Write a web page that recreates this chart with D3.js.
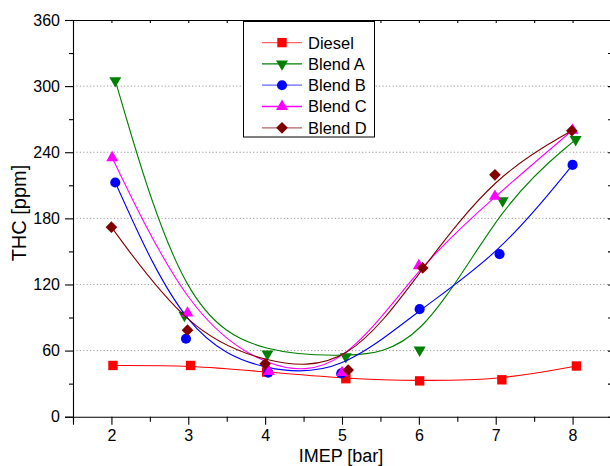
<!DOCTYPE html>
<html>
<head>
<meta charset="utf-8">
<script src="https://cdn.jsdelivr.net/npm/d3@7"></script>
<style>
  html, body { margin: 0; padding: 0; background: #fff; }
  svg { display: block; font-family: "Liberation Sans", Arial, sans-serif; }
</style>
</head>
<body>
<svg id="chart" width="610" height="466"></svg>
<script>
// ---- data ----
const seriesNames = ["Diesel", "Blend A", "Blend B", "Blend C", "Blend D"];
const dieselX = [2.02, 3.03, 4.02, 5.05, 6.01, 7.08, 8.05];
const dieselY = [46.5, 46.5, 40.5, 34.5, 32.5, 33.5, 46];
const blendAX = [2.05, 2.95, 4.03, 5.05, 6.01, 7.09, 8.04];
const blendAY = [305, 92, 57, 54.5, 60.5, 196, 251.5];
const blendBX = [2.05, 2.97, 4.04, 4.99, 6.01, 7.05, 8.0];
const blendBY = [212.5, 70.7, 40, 39.3, 97.6, 147.5, 228.5];
const blendCX = [2.01, 2.99, 4.05, 5.0, 6.0, 6.99, 8.0];
const blendCY = [235, 94, 41, 40, 137, 200, 260];
const blendDX = [2.0, 2.99, 4.0, 5.08, 6.05, 6.99, 7.99];
const blendDY = [172, 78.5, 48, 42.3, 135, 219.5, 259.5];
const xTickValues = [2, 3, 4, 5, 6, 7, 8];
const xMinorValues = [1.5, 2.5, 3.5, 4.5, 5.5, 6.5, 7.5, 8.5];
const yTickValues = [0, 60, 120, 180, 240, 300, 360];
const yMinorValues = [30, 90, 150, 210, 270, 330];
const yGridValues = [60, 120, 180, 240, 300];
const xTitle = "IMEP [bar]";
const yTitle = "THC [ppm]";

// ---- styles ----
const colors = ["#ff0000", "#008000", "#0000ff", "#ff00ff", "#800000"];
const symbols = [
  {type: d3.symbolSquare, size: 88, rot: 0},
  {type: d3.symbolTriangle, size: 62, rot: 180},
  {type: d3.symbolCircle, size: 80, rot: 0},
  {type: d3.symbolTriangle, size: 62, rot: 0},
  {type: d3.symbolSquare, size: 68, rot: 45}
];
const xs = [dieselX, blendAX, blendBX, blendCX, blendDX];
const ys = [dieselY, blendAY, blendBY, blendCY, blendDY];

const L = 73, R = 611, T = 20, B = 416.7;
const x = d3.scaleLinear().domain([1.5, 8.5]).range([L, R]);
const y = d3.scaleLinear().domain([0, 360]).range([B, T]);

const svg = d3.select("#chart");

// grid
svg.append("g").selectAll("line").data(yGridValues).join("line")
  .attr("x1", L).attr("x2", R)
  .attr("y1", d => y(d)).attr("y2", d => y(d))
  .attr("stroke", "#9a9a9a").attr("stroke-width", 1)
  .attr("stroke-dasharray", "1.2,2.2");

// axes
const axisFont = "16px";
svg.append("g").attr("transform", `translate(0,${B})`)
  .call(d3.axisBottom(x).tickValues(xTickValues).tickSize(8).tickPadding(5).tickFormat(d3.format("d")));
svg.append("g").attr("transform", `translate(0,${B})`)
  .call(d3.axisBottom(x).tickValues(xMinorValues).tickSize(5).tickFormat(""))
  .select(".domain").remove();
svg.append("g").attr("transform", `translate(${L},0)`)
  .call(d3.axisLeft(y).tickValues(yTickValues).tickSize(8).tickPadding(5).tickFormat(d3.format("d")));
svg.append("g").attr("transform", `translate(${L},0)`)
  .call(d3.axisLeft(y).tickValues(yMinorValues).tickSize(4).tickFormat(""))
  .select(".domain").remove();
// top and right frame with inward ticks
svg.append("g").attr("transform", `translate(0,${T})`)
  .call(d3.axisTop(x).tickValues(xTickValues.concat(xMinorValues)).tickSize(-3).tickSizeOuter(0).tickFormat(""));
svg.append("g").attr("transform", `translate(${R},0)`)
  .call(d3.axisRight(y).tickValues(yTickValues.concat(yMinorValues)).tickSize(-3).tickSizeOuter(0).tickFormat(""));

svg.selectAll(".tick text").attr("font-size", axisFont).attr("fill", "#000")
  .attr("font-family", "'Liberation Sans', Arial, sans-serif");
svg.selectAll(".domain, .tick line").attr("stroke", "#000").attr("stroke-width", 1.1);

// titles
svg.append("text").attr("x", 341).attr("y", 462).attr("text-anchor", "middle")
  .attr("font-size", "18px").text(xTitle);
svg.append("text").attr("transform", "translate(26,213) rotate(-90)").attr("text-anchor", "middle")
  .attr("font-size", "20px").text(yTitle);

// series
const line = d3.line().curve(d3.curveBasis).x(d => x(d[0])).y(d => y(d[1]));
seriesNames.forEach((name, i) => {
  const pts = xs[i].map((xv, j) => [xv, ys[i][j]]);
  const g = svg.append("g");
  g.append("path").datum(pts).attr("d", line)
    .attr("fill", "none").attr("stroke", colors[i]).attr("stroke-width", 1.1);
  const sym = d3.symbol().type(symbols[i].type).size(symbols[i].size);
  g.selectAll("path.m").data(pts).join("path").attr("class", "m")
    .attr("d", sym)
    .attr("transform", d => `translate(${x(d[0])},${y(d[1])}) rotate(${symbols[i].rot})`)
    .attr("fill", colors[i]);
});

// legend
const lg = svg.append("g");
lg.append("rect").attr("x", 243.5).attr("y", 21.5).attr("width", 131).attr("height", 115.5)
  .attr("fill", "#fff").attr("stroke", "#000").attr("stroke-width", 1);
seriesNames.forEach((name, i) => {
  const yy = 42.6 + i * 21.3;
  lg.append("line").attr("x1", 262).attr("x2", 302).attr("y1", yy).attr("y2", yy)
    .attr("stroke", colors[i]).attr("stroke-width", 1.3).attr("opacity", i === 1 || i === 3 ? 1 : 0.6);
  const sym = d3.symbol().type(symbols[i].type).size(symbols[i].size);
  lg.append("path").attr("d", sym)
    .attr("transform", `translate(282,${yy}) rotate(${symbols[i].rot})`).attr("fill", colors[i]);
  lg.append("text").attr("x", 308).attr("y", yy).attr("dy", "0.36em")
    .attr("font-size", "16.5px").text(name);
});
</script>
</body>
</html>
